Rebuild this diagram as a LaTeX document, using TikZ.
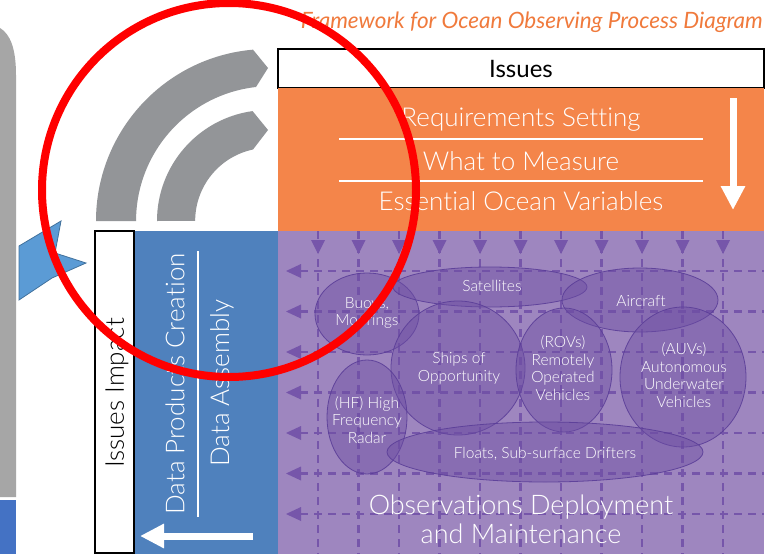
\documentclass[tikz,border=0pt]{standalone}
\usepackage{fontspec}
\setmainfont{Lato}[UprightFont={* Light},ItalicFont={* Light Italic},Ligatures={NoCommon}]
\newfontfamily\latoreg{Lato}[Ligatures={NoCommon}]
\usetikzlibrary{arrows.meta}
\definecolor{orng}{HTML}{F4854A}
\definecolor{purp}{HTML}{9E86BF}
\definecolor{dpurp}{HTML}{7656AA}
\definecolor{ellf}{HTML}{6E4FA4}
\definecolor{elld}{HTML}{5B3E98}
\definecolor{blu}{HTML}{4F81BD}
\definecolor{gry}{HTML}{939598}
\definecolor{lgry}{HTML}{A6A6A6}
\definecolor{titl}{HTML}{F07A3C}
\definecolor{starf}{HTML}{5B9BD5}
\definecolor{stard}{HTML}{41719C}
\definecolor{lblu}{HTML}{4472C4}
\begin{document}
\begin{tikzpicture}[x=1pt,y=-1pt,
  wtext/.style={text=white,font=\fontsize{26}{30}\selectfont,inner sep=0pt},
  etext/.style={text=white,font=\fontsize{15.5}{17.5}\selectfont,align=center,inner sep=0pt},
  grid/.style={dpurp,line width=2.2pt,dash pattern=on 8pt off 6pt},
  tri/.style={fill=dpurp,draw=none},
  blob/.style={fill=ellf,fill opacity=0.45,draw=elld,draw opacity=0.9,line width=0.8pt},
  bigarrow/.style={white,line width=7pt,-{Triangle[width=23pt,length=24pt]}}]
\useasboundingbox (0,0) rectangle (782,554);
\fill[white] (0,0) rectangle (782,554);
% left gray bar and blue block
\fill[lgry] (0,28) .. controls (10,34) and (16,48) .. (16,75) -- (16,497) -- (0,497) -- cycle;
\fill[lblu] (0,500) rectangle (16,554);
% blue star shape
\filldraw[fill=starf,draw=stard,line width=0.8pt] (19,246) -- (61,221) -- (55,253) -- (86,263) -- (52,278) -- (19,300) -- cycle;
% gray curved arrows
\fill[gry] (96,221) arc[start angle=180,end angle=265,radius=172] -- (268,68) -- (256,87) arc[start angle=263.6,end angle=180,radius=135] -- cycle;
\fill[gry] (157,221) arc[start angle=180,end angle=262,radius=111] -- (268,130) -- (253,149.5) arc[start angle=258,end angle=180,radius=73] -- cycle;
% title
\node[anchor=east,text=titl,font=\latoreg\fontsize{22.5}{25}\selectfont\itshape,inner sep=0pt] (title) at (763,22) {Framework for Ocean Observing Process Diagram};
% issues box
\node[draw=black,line width=1.2pt,fill=white,minimum width=486pt,minimum height=39pt,inner sep=0pt,font=\latoreg\fontsize{24}{28}\selectfont] (issues) at (521,68.5) {Issues};
% orange panel
\fill[orng] (278,88) rectangle (764,231);
\node[wtext] (req) at (521,120) {Requirements Setting};
\node[wtext] (what) at (521,161) {What to Measure};
\node[wtext] (eov) at (521,201) {Essential Ocean Variables};
\coordinate (l1a) at (339,139); \coordinate (l1b) at (703,139);
\coordinate (l2a) at (339,181); \coordinate (l2b) at (703,181);
\draw[white,line width=1.6pt] (l1a) -- (l1b);
\draw[white,line width=1.6pt] (l2a) -- (l2b);
\coordinate (da) at (733,98); \coordinate (db) at (733,210);
\draw[bigarrow] (da) -- (db);
% purple panel
\fill[purp] (278,231) rectangle (764,554);
\foreach \i in {0,...,10}{
  \pgfmathsetmacro{\xx}{318+40.5*\i}
  \draw[grid] (\xx,231) -- (\xx,554);
  \fill[tri] (\xx-7,240) -- (\xx+7,240) -- (\xx,254) -- cycle;
}
\foreach \j in {0,...,6}{
  \pgfmathsetmacro{\yy}{271+40.5*\j}
  \draw[grid] (300,\yy) -- (764,\yy);
  \fill[tri] (301,\yy-7) -- (301,\yy+7) -- (286,\yy) -- cycle;
}
% blobs
\path[blob] (367,314) ellipse[x radius=52,y radius=41];
\path[blob] (490,287) ellipse[x radius=97,y radius=20];
\path[blob] (640,300) ellipse[x radius=78,y radius=32];
\path[blob] (458,368) ellipse[x radius=67,y radius=67];
\path[blob] (564,370) ellipse[x radius=48,y radius=62];
\path[blob] (683,377) ellipse[x radius=63,y radius=70];
\path[blob] (367,417) ellipse[x radius=40,y radius=57];
\path[blob] (545,452) ellipse[x radius=158,y radius=30];
\node[etext] (buoy) at (367,313) {Buoys,\\Moorings};
\node[etext] (sat) at (492,286) {Satellites};
\node[etext] (air) at (641,301) {Aircraft};
\node[etext] (ship) at (459,368) {Ships of\\Opportunity};
\node[etext] (rov) at (563,368) {(ROVs)\\Remotely\\Operated\\Vehicles};
\node[etext] (auv) at (684,375) {(AUVs)\\Autonomous\\Underwater\\Vehicles};
\node[etext] (hf) at (367,420) {(HF) High\\Frequency\\Radar};
\node[etext] (float) at (545,454) {Floats, Sub-surface Drifters};
\node[wtext,align=center,font=\fontsize{27}{29}\selectfont] (obs) at (521,519.5) {Observations Deployment\\and Maintenance};
% blue panel
\fill[blu] (134,231) rectangle (278,554);
\node[wtext,rotate=90,font=\fontsize{26}{30}\selectfont] (dpc) at (175,384) {Data Products Creation};
\node[wtext,rotate=90,font=\fontsize{26}{30}\selectfont] (das) at (222,383) {Data Assembly};
\coordinate (sa) at (198,251); \coordinate (sb) at (198,517);
\draw[white,line width=1.6pt] (sa) -- (sb);
\coordinate (la) at (253,536); \coordinate (lb) at (140,536);
\draw[bigarrow] (la) -- (lb);
% issues impact box
\draw[black,line width=1.2pt,fill=white] (95,231) rectangle (134,553);
\node[rotate=90,font=\fontsize{26}{28}\selectfont,inner sep=0pt] (impact) at (117,393) {Issues Impact};
% red circle
\draw[red,line width=8pt] (229,190) circle[radius=187];
\end{tikzpicture}
\end{document}
